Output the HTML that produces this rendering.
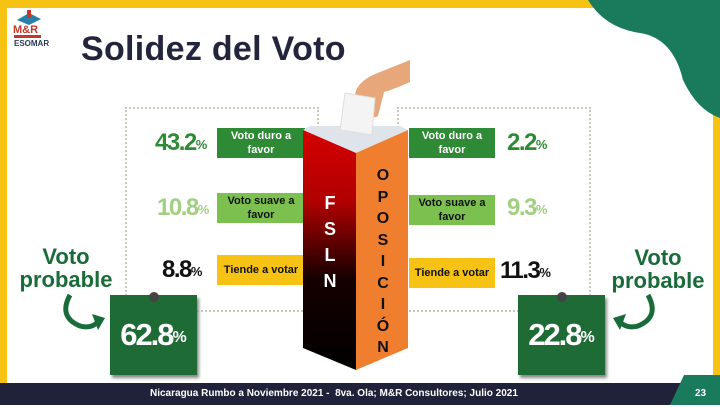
<!DOCTYPE html>
<html><head><meta charset="utf-8"><style>
*{margin:0;padding:0;box-sizing:border-box}
body{width:720px;height:408px;position:relative;overflow:hidden;background:#fff;font-family:"Liberation Sans",sans-serif}
.a{position:absolute}
.lbl{position:absolute;font-weight:bold;font-size:11px;text-align:center;line-height:14px;display:flex;align-items:center;justify-content:center}
.num{position:absolute;font-weight:bold;font-size:24px;letter-spacing:-1.5px;line-height:28px}
.num small{font-size:13px;letter-spacing:0;vertical-align:top;position:relative;top:2px}
.vp{position:absolute;color:#1a6b3a;font-weight:bold;font-size:21px;text-align:center;line-height:23px}
.note{position:absolute;background:#1e6b35;color:#fff;font-weight:bold;font-size:31px;letter-spacing:-2px;display:flex;align-items:center;justify-content:center;box-shadow:2px 3px 3px #888}
.note small{font-size:16px;letter-spacing:0;vertical-align:top;position:relative;top:3px}
.pin{position:absolute;width:10px;height:10px;border-radius:50%;background:#444;top:-3px;left:50%;margin-left:-5px}
</style></head><body>
<div class="a" style="left:0;top:0;width:720px;height:8px;background:#f6c214"></div>
<div class="a" style="left:0;top:0;width:7px;height:383px;background:#f6c214"></div>
<div class="a" style="left:713px;top:100px;width:7px;height:283px;background:#f6c214"></div>
<svg class="a" style="left:585px;top:0" width="135" height="120"><path d="M3 0 L135 0 L135 118 Q112 110 98 80 Q88 38 55 33 Q20 28 3 0Z" fill="#1a7a5c"/></svg>
<div class="a" style="left:0;top:383px;width:720px;height:22px;background:#1f2238"></div>
<svg class="a" style="left:670px;top:375px" width="50" height="30"><path d="M14 0 L50 0 L50 30 L0 30Z" fill="#1a7a5c"/></svg>
<div class="a" style="left:150px;top:388px;font-size:10px;font-weight:bold;color:#fff">Nicaragua Rumbo a Noviembre 2021 -&nbsp; 8va. Ola; M&amp;R Consultores; Julio 2021</div>
<div class="a" style="left:695px;top:388px;font-size:10px;font-weight:bold;color:#fff">23</div>
<svg class="a" style="left:14px;top:10px" width="30" height="16"><path d="M3 10 L15 3 L27 9 L15 15Z" fill="#2a7fa8"/><rect x="13" y="0" width="4" height="8" fill="#c0392b"/></svg>
<div class="a" style="left:13px;top:24px;font-size:11px;font-weight:bold;color:#c0392b">M&amp;R</div>
<div class="a" style="left:14px;top:35px;width:27px;height:3px;background:#c0392b"></div>
<div class="a" style="left:14px;top:39px;font-size:8px;font-weight:bold;color:#2a3a5a">ESOMAR</div>
<div class="a" style="left:81px;top:30px;font-size:34px;font-weight:bold;color:#23253d;letter-spacing:0.3px">Solidez del Voto</div>
<div class="a" style="left:125px;top:107px;width:194px;height:205px;border:2px dotted #c8c8b8"></div>
<div class="a" style="left:397px;top:107px;width:194px;height:205px;border:2px dotted #c8c8b8"></div>
<div class="a" style="left:320px;top:105px;width:76px;height:8px;background:#fff"></div>
<div class="lbl" style="left:217px;top:128px;width:88px;height:30px;background:#2f8a35;color:#fff">Voto duro a<br>favor</div>
<div class="lbl" style="left:217px;top:193px;width:88px;height:30px;background:#7cc050;color:#111">Voto suave a<br>favor</div>
<div class="lbl" style="left:217px;top:255px;width:88px;height:30px;background:#f6c214;color:#111">Tiende a votar</div>
<div class="num" style="left:155px;top:129px;color:#2f8a35">43.2<small>%</small></div>
<div class="num" style="left:157px;top:194px;color:#a3cf80">10.8<small>%</small></div>
<div class="num" style="left:162px;top:256px;color:#111">8.8<small>%</small></div>
<div class="lbl" style="left:409px;top:128px;width:86px;height:30px;background:#2f8a35;color:#fff">Voto duro a<br>favor</div>
<div class="lbl" style="left:409px;top:195px;width:86px;height:30px;background:#7cc050;color:#111">Voto suave a<br>favor</div>
<div class="lbl" style="left:409px;top:258px;width:86px;height:30px;background:#f6c214;color:#111">Tiende a votar</div>
<div class="num" style="left:507px;top:129px;color:#2f8a35">2.2<small>%</small></div>
<div class="num" style="left:507px;top:194px;color:#a3cf80">9.3<small>%</small></div>
<div class="num" style="left:500px;top:257px;color:#111">11.3<small>%</small></div>
<svg class="a" style="left:300px;top:60px" width="112" height="315">
<defs><linearGradient id="g" x1="0" y1="0" x2="0" y2="1"><stop offset="0" stop-color="#d40000"/><stop offset="0.3" stop-color="#b00000"/><stop offset="0.62" stop-color="#150000"/><stop offset="1" stop-color="#000"/></linearGradient></defs>
<path d="M3 70 L56 95 L108 70 L100 66 L10 66Z" fill="#dfe3ea"/>
<path d="M3 70 L56 93 L56 310 L3 288Z" fill="url(#g)"/>
<path d="M56 93 L108 70 L108 288 L56 310Z" fill="#ef7f2f"/>
<path d="M55 34 Q58 20 80 12 L110 0 L110 22 Q92 30 84 32 L78 56 Q72 60 70 50 L68 40Z" fill="#e8a77a"/>
<path d="M45 33 L75 38 L72 75 L40 70Z" fill="#f4f4f4" stroke="#ddd"/>
</svg>
<div class="a" style="left:318px;top:190px;width:24px;color:#fff;font-weight:bold;font-size:18px;line-height:26px;text-align:center">F<br>S<br>L<br>N</div>
<div class="a" style="left:371px;top:165px;width:24px;color:#111;font-weight:bold;font-size:16px;line-height:21.5px;text-align:center">O<br>P<br>O<br>S<br>I<br>C<br>I<br>Ó<br>N</div>
<div class="vp" style="left:16px;top:245px;width:100px;font-size:22px">Voto<br>probable</div>
<div class="vp" style="left:604px;top:246px;width:108px;font-size:22px">Voto<br>probable</div>
<svg class="a" style="left:58px;top:292px" width="50" height="44"><path d="M12 3 Q0 25 22 34 Q33 37 40 30" stroke="#1a6b3a" stroke-width="5" fill="none"/><path d="M34 22 L47 26 L40 38Z" fill="#1a6b3a"/></svg>
<svg class="a" style="left:610px;top:292px" width="50" height="44"><path d="M38 3 Q50 25 28 34 Q17 37 10 30" stroke="#1a6b3a" stroke-width="5" fill="none"/><path d="M16 22 L3 26 L10 38Z" fill="#1a6b3a"/></svg>
<div class="note" style="left:110px;top:295px;width:87px;height:80px">62.8<small>%</small><div class="pin"></div></div>
<div class="note" style="left:518px;top:295px;width:87px;height:80px">22.8<small>%</small><div class="pin"></div></div>
</body></html>
